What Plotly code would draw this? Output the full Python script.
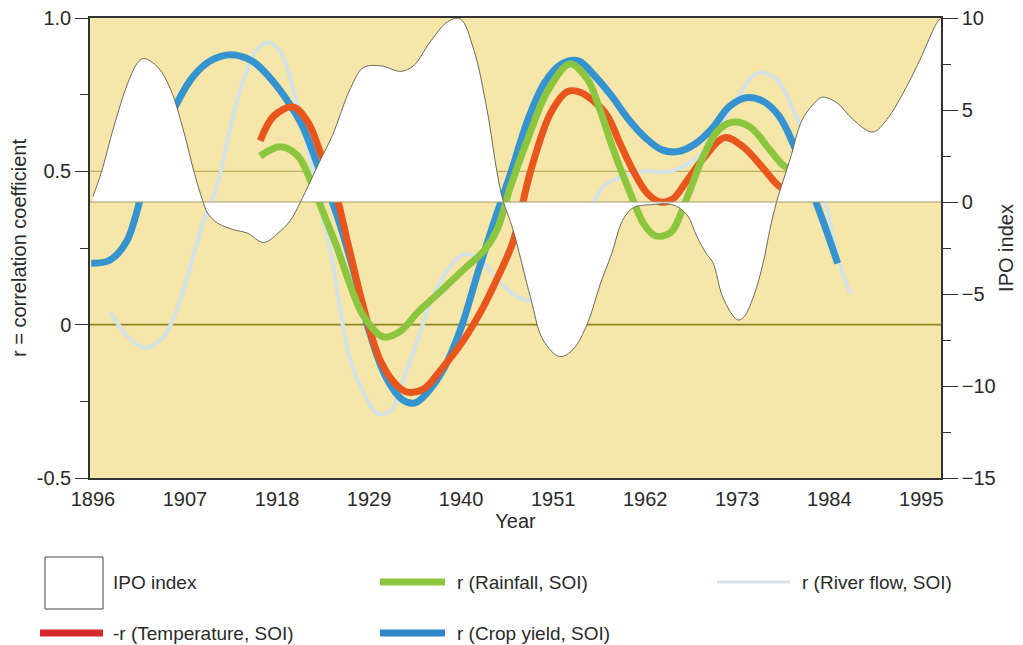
import plotly.graph_objects as go

# ---------------- data ----------------
years_ipo = [1896, 1897, 1898.5, 1900.2, 1901.4, 1902.1, 1903.8, 1905.3, 1906.9, 1908.1,
             1909.1, 1909.7, 1910.9, 1912.8, 1914.5, 1916.4, 1918.1, 1919.6, 1920.8, 1923.2,
             1924.6, 1926.8, 1928.3, 1930.4, 1932.8, 1934.3, 1936.3, 1938.4, 1939.9, 1941.5,
             1943.1, 1944.3, 1945.0, 1946.2, 1948.3, 1949.8, 1951.8, 1953.4, 1955.1, 1956.6,
             1958.0, 1959.3, 1960.6, 1962.6, 1965.3, 1967.0, 1968.2, 1969.3, 1970.1, 1971.3,
             1973.0, 1973.7, 1974.9, 1976.1, 1976.9, 1977.7, 1979.3, 1980.8, 1982.5, 1983.2,
             1984.9, 1986.8, 1989.2, 1990.9, 1992.8, 1994.8, 1996.8, 1997.3]
ipo_index = [0.3, 1.6, 4.1, 6.5, 7.6, 7.8, 7.3, 6.1, 3.75, 1.6,
             0.1, -0.6, -1.15, -1.5, -1.7, -2.2, -1.7, -1.0, 0.0, 2.3,
             3.6, 6.2, 7.3, 7.4, 7.1, 7.4, 8.7, 9.8, 9.95, 8.3,
             5.0, 1.6, 0.1, -1.5, -5.2, -7.5, -8.4, -8.0, -6.6, -4.5,
             -2.8, -1.0, -0.3, -0.15, -0.15, -0.7, -1.9, -2.8, -3.3, -5.2,
             -6.4, -6.3, -5.2, -3.3, -1.5, 0.0, 2.3, 4.5, 5.5, 5.7,
             5.4, 4.5, 3.8, 4.5, 5.9, 7.7, 9.7, 10.0]

years_crop = [1895.8, 1898, 1900, 1902, 1904, 1906, 1908, 1910, 1912.5, 1915, 1917, 1919,
              1921, 1923, 1925, 1927, 1929, 1931, 1933, 1934.5, 1936, 1938, 1940, 1942,
              1944, 1946, 1948, 1950, 1952, 1954, 1956, 1958, 1960, 1962, 1964, 1966,
              1968, 1970, 1972, 1974, 1976, 1978, 1980, 1982, 1984, 1985]
r_crop = [0.20, 0.21, 0.27, 0.44, 0.59, 0.72, 0.81, 0.86, 0.88, 0.86, 0.81, 0.74,
          0.65, 0.51, 0.37, 0.19, -0.02, -0.17, -0.245, -0.255, -0.22, -0.14, -0.01, 0.17,
          0.34, 0.50, 0.67, 0.79, 0.85, 0.86, 0.81, 0.745, 0.67, 0.61, 0.57, 0.565,
          0.59, 0.64, 0.71, 0.74, 0.73, 0.68, 0.57, 0.43, 0.28, 0.20]

years_temp = [1916, 1917.6, 1919.9, 1921.7, 1923.2, 1924.8, 1926.6, 1928.4, 1930.4, 1932.4,
              1933.6, 1935.5, 1937.5, 1940.3, 1942.3, 1944.3, 1946.2, 1948.3, 1950.7, 1952.7,
              1954, 1955.8, 1957.5, 1959, 1960.6, 1962.2, 1963.8, 1965.3, 1967, 1968.9,
              1971.5, 1973.7, 1976.1, 1978.1, 1979.7, 1981.3, 1983.1]
neg_r_temp = [0.60, 0.68, 0.71, 0.66, 0.56, 0.45, 0.25, 0.05, -0.12, -0.20,
              -0.22, -0.21, -0.15, -0.05, 0.04, 0.15, 0.27, 0.50, 0.69, 0.76,
              0.76, 0.73, 0.68, 0.59, 0.50, 0.43, 0.40, 0.41, 0.47, 0.54,
              0.61, 0.58, 0.51, 0.45, 0.44, 0.47, 0.55]

years_rain = [1916, 1918.4, 1920.5, 1922, 1923.6, 1925.2, 1926.6, 1928.3, 1930.7, 1932.8,
              1934.8, 1937.2, 1940.3, 1942.7, 1944.3, 1945.9, 1948.3, 1950.3, 1953, 1955.1,
              1956.6, 1958.2, 1960.2, 1961.8, 1963.2, 1965, 1966.8, 1968.8, 1970.6, 1972.4,
              1974.5, 1976.9, 1978.5, 1980.1, 1981.7, 1983.2]
r_rain = [0.55, 0.58, 0.55, 0.47, 0.36, 0.25, 0.14, 0.03, -0.04, -0.02,
          0.04, 0.10, 0.18, 0.24, 0.31, 0.45, 0.63, 0.76, 0.85, 0.80,
          0.70, 0.57, 0.43, 0.33, 0.29, 0.30, 0.40, 0.54, 0.63, 0.66,
          0.645, 0.57, 0.52, 0.50, 0.51, 0.53]

years_river = [1898.1, 1900.2, 1902.1, 1904.1, 1905.3, 1906.9, 1908.9, 1910.9, 1912.5, 1914,
               1915.7, 1916.9, 1918.4, 1920, 1921.7, 1923.2, 1924.4, 1925.6, 1926.8, 1928.3,
               1930, 1931.6, 1933.1, 1934.8, 1936.3, 1938.4, 1940.3, 1942.3, 1944.3, 1946.2,
               1947.9, 1949.8, 1952.2, 1954.4, 1957, 1959, 1962, 1965, 1968.8, 1972.1,
               1975.4, 1977.7, 1979.7, 1981.7, 1983.7, 1985, 1986.5]
r_river = [0.04, -0.04, -0.075, -0.05, 0.0, 0.12, 0.31, 0.46, 0.65, 0.80,
           0.90, 0.92, 0.89, 0.76, 0.57, 0.38, 0.24, 0.04, -0.12, -0.22,
           -0.29, -0.28, -0.18, -0.05, 0.07, 0.18, 0.23, 0.21, 0.15, 0.10,
           0.08, 0.11, 0.20, 0.32, 0.45, 0.48, 0.50, 0.50, 0.56, 0.70,
           0.82, 0.80, 0.70, 0.57, 0.38, 0.22, 0.10]

x_ticks = [1896, 1907, 1918, 1929, 1940, 1951, 1962, 1973, 1984, 1995]
r_ticks = [-0.5, 0, 0.5, 1.0]
r_tick_labels = ["-0.5", "0", "0.5", "1.0"]
ipo_ticks = [-15, -10, -5, 0, 5, 10]

legend_labels = ["IPO index", "r (Rainfall, SOI)", "r (River flow, SOI)",
                 "-r (Temperature, SOI)", "r (Crop yield, SOI)"]

# ---------------- styling ----------------
# the page body has an 8 px margin, so the figure is 16 px smaller than the window
OFF = 8
W, H = 1023 - OFF, 645 - OFF
PL, PR, PT, PB = 90, 941, 18, 478   # plot area in window pixels
FONT = "Liberation Sans, Arial, Helvetica, sans-serif"
TXT = "#2a2a2a"
BG = "#f6e6aa"
C_RAIN = "#8cc63f"
C_TEMP = "#e8561e"
C_CROP = "#3594d0"
C_RIVER = "#d3e3e6"
X_RANGE = [1895.65, 1997.35]

fig = go.Figure()

# IPO index: white area between the curve and its zero line
fig.add_trace(go.Scatter(x=[years_ipo[0], years_ipo[-1]], y=[0, 0], yaxis="y2",
                         mode="lines", line=dict(width=0), hoverinfo="skip",
                         showlegend=False))
fig.add_trace(go.Scatter(x=years_ipo, y=ipo_index, yaxis="y2", mode="lines",
                         line=dict(color="#6a6a5c", width=1, shape="spline"),
                         fill="tonexty", fillcolor="white", name=legend_labels[0],
                         showlegend=False))
fig.add_trace(go.Scatter(x=X_RANGE, y=[0, 0], yaxis="y2", mode="lines",
                         line=dict(color="#a39a6c", width=1), hoverinfo="skip",
                         showlegend=False))

fig.add_trace(go.Scatter(x=years_river, y=r_river, mode="lines", name=legend_labels[2],
                         line=dict(color=C_RIVER, width=4, shape="spline"), showlegend=False))
fig.add_trace(go.Scatter(x=years_crop, y=r_crop, mode="lines", name=legend_labels[4],
                         line=dict(color=C_CROP, width=7, shape="spline"), showlegend=False))
fig.add_trace(go.Scatter(x=years_temp, y=neg_r_temp, mode="lines", name=legend_labels[3],
                         line=dict(color=C_TEMP, width=7, shape="spline"), showlegend=False))
fig.add_trace(go.Scatter(x=years_rain, y=r_rain, mode="lines", name=legend_labels[1],
                         line=dict(color=C_RAIN, width=7, shape="spline"), showlegend=False))

shapes = [
    dict(type="line", xref="paper", x0=0, x1=1, yref="y", y0=0, y1=0,
         line=dict(color="#8a8620", width=1.6), layer="below"),
    dict(type="line", xref="paper", x0=0, x1=1, yref="y", y0=0.5, y1=0.5,
         line=dict(color="#aaa050", width=1), layer="below"),
]

def px2paper(px, py):
    return (px - PL) / (PR - PL), (PB - py) / (PB - PT)

# custom legend
x0, y0 = px2paper(45, 609)
x1, y1 = px2paper(103, 557)
shapes.append(dict(type="rect", xref="paper", yref="paper", x0=x0, x1=x1, y0=y0, y1=y1,
                   fillcolor="white", line=dict(color="#444444", width=1)))
for (xa, xb, yy, col, wd) in [(40, 103, 633, "#d4282c", 7), (380, 445, 582, C_RAIN, 7),
                              (717, 790, 582, C_RIVER, 3), (380, 445, 633, "#2f86c8", 7)]:
    a, b = px2paper(xa, yy)
    c, _ = px2paper(xb, yy)
    shapes.append(dict(type="line", xref="paper", yref="paper", x0=a, x1=c, y0=b, y1=b,
                       line=dict(color=col, width=wd)))

annotations = []
for (tx, ty, label) in [(111, 582, legend_labels[0]), (455, 582, legend_labels[1]),
                        (800, 582, legend_labels[2]), (111, 633, legend_labels[3]),
                        (455, 633, legend_labels[4])]:
    a, b = px2paper(tx, ty)
    annotations.append(dict(x=a, y=b, xref="paper", yref="paper", text=label,
                            showarrow=False, xanchor="left", yanchor="middle",
                            font=dict(size=19, color=TXT, family=FONT)))

axis_common = dict(showgrid=False, zeroline=False, showline=True, linecolor="#333333",
                   linewidth=1.5, tickfont=dict(size=20, color=TXT, family=FONT),
                   ticklabeloverflow="allow")

fig.update_layout(
    width=W, height=H,
    margin=dict(l=PL - OFF, r=W - (PR - OFF), t=PT - OFF, b=H - (PB - OFF),
                autoexpand=False),
    paper_bgcolor="white", plot_bgcolor=BG,
    font=dict(family=FONT, color=TXT, size=20),
    showlegend=False,
    xaxis=dict(range=X_RANGE, tickmode="array", tickvals=x_ticks, ticks="outside",
               ticklen=2, tickcolor="rgba(0,0,0,0)", mirror=True,
               title=dict(text="Year", font=dict(size=20, color=TXT), standoff=2),
               **axis_common),
    yaxis=dict(range=[-0.5, 1.0], tickmode="array", tickvals=r_ticks,
               ticktext=r_tick_labels, ticks="outside", ticklen=13, tickcolor="#333333",
               tickwidth=1.3,
               minor=dict(dtick=0.25, tick0=0, ticks="outside", ticklen=8,
                          tickcolor="#333333", tickwidth=1.3),
               title=dict(text="r = correlation coefficient", font=dict(size=20, color=TXT),
                          standoff=6),
               **axis_common),
    yaxis2=dict(range=[-15, 10], overlaying="y", side="right", tickmode="array",
                tickvals=ipo_ticks, ticks="outside", ticklen=15, tickcolor="#333333",
                tickwidth=1.3,
                minor=dict(dtick=2.5, tick0=0, ticks="outside", ticklen=8,
                           tickcolor="#333333", tickwidth=1.3),
                title=dict(text="IPO index", font=dict(size=20, color=TXT), standoff=4),
                **axis_common),
    shapes=shapes,
    annotations=annotations,
)

fig.write_html("out.html")
